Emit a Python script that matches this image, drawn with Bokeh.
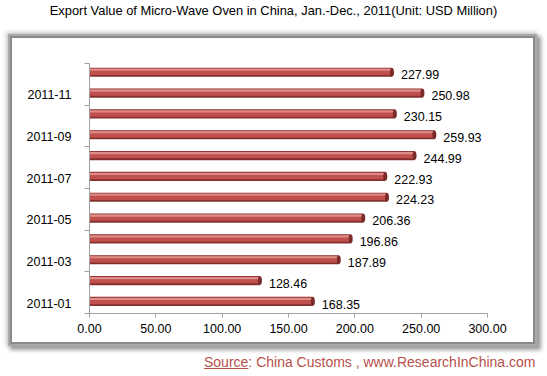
from bokeh.plotting import figure
from bokeh.layouts import column
from bokeh.models import (ColumnDataSource, FixedTicker, NumeralTickFormatter,
                          Range1d, Div)
from bokeh.transform import dodge
from bokeh.embed import file_html
from bokeh.resources import INLINE
from bokeh.core.properties import value

months = ["2011-01", "2011-02", "2011-03", "2011-04", "2011-05", "2011-06",
          "2011-07", "2011-08", "2011-09", "2011-10", "2011-11", "2011-12"]
export_value = [168.35, 128.46, 187.89, 196.86, 206.36, 224.23,
                222.93, 244.99, 259.93, 230.15, 250.98, 227.99]
x_ticks = [0, 50, 100, 150, 200, 250, 300]
title_text = "Export Value of Micro-Wave Oven in China, Jan.-Dec., 2011(Unit: USD Million)"
source_word = "Source"
source_rest = ": China Customs , www.ResearchInChina.com"

FONT = "Liberation Sans"
RED_TXT = "#b8504b"

# ---- title strip ----
top = Div(text=title_text, width=547, height=38,
          styles={"font-family": FONT, "font-size": "12.9px", "color": "#000000",
                  "text-align": "center", "line-height": "22px",
                  "white-space": "nowrap", "margin": "0", "padding": "0"})

# ---- main chart ----
pos = list(range(1, len(months) + 1))
src = ColumnDataSource(dict(
    y=pos,
    v=export_value,
    lbl=["{:.2f}".format(v) for v in export_value],
))

p = figure(width=521, height=304, output_backend="svg", toolbar_location=None,
           x_range=Range1d(0, 300), y_range=Range1d(0.5, 12.5),
           min_border_left=77, min_border_right=46,
           min_border_top=25, min_border_bottom=29)
p.background_fill_color = "white"
p.border_fill_color = "white"
p.outline_line_color = None
p.xgrid.visible = False
p.ygrid.visible = False
p.margin = (0, 0, 0, 12)
p.styles = {"box-shadow": "0 0 0 2px #8a8a8a, 0 0 0 4px #a9a9a9, "
                          "3px 3px 4px 5px #9c9c9c, -1px -1px 4px 5px #cfcfcf"}

# cylinder-like bars
p.hbar(y=dodge("y", 0.08, range=p.y_range), right="v", left=0, height=0.44, source=src,
       fill_color="#85302d", line_color=None)
p.hbar(y=dodge("y", 0.11, range=p.y_range), right="v", left=0, height=0.32, source=src,
       fill_color="#c0504d", line_color=None)
p.hbar(y=dodge("y", 0.2, range=p.y_range), right="v", left=0, height=0.1, source=src,
       fill_color="#de8d8a", line_color=None)
p.ellipse(x="v", y=dodge("y", 0.08, range=p.y_range), width=4, height=0.42,
          width_units="screen", source=src, fill_color="#7a2a28", line_color=None)

p.text(x="v", y="y", text="lbl", source=src, x_offset=9, y_offset=1,
       text_baseline="middle", text_align="left", text_font_size="12.5px",
       text_font=value(FONT), text_color="#000000")

# axes
p.xaxis.ticker = FixedTicker(ticks=x_ticks)
p.xaxis.formatter = NumeralTickFormatter(format="0.00")
p.xaxis.axis_line_color = "#a0a0a0"
p.xaxis.major_tick_line_color = "#a0a0a0"
p.xaxis.major_tick_out = 4
p.xaxis.major_tick_in = 0
p.xaxis.minor_tick_line_color = None
p.xaxis.major_label_text_font = FONT
p.xaxis.major_label_text_font_size = "12.5px"
p.xaxis.major_label_text_color = "#000000"
p.xaxis.major_label_standoff = 6

p.yaxis.ticker = FixedTicker(ticks=pos[0::2],
                             minor_ticks=[k + 0.5 for k in range(0, 13, 2)])
p.yaxis.major_label_overrides = {pv: m for pv, m in zip(pos, months)}
p.yaxis.axis_line_color = "#a0a0a0"
p.yaxis.major_tick_line_color = None
p.yaxis.minor_tick_line_color = "#a0a0a0"
p.yaxis.minor_tick_out = 5
p.yaxis.minor_tick_in = 0
p.yaxis.major_label_text_font = FONT
p.yaxis.major_label_text_font_size = "12.5px"
p.yaxis.major_label_text_color = "#000000"
p.yaxis.major_label_standoff = 12

# ---- source strip ----
bot = Div(text="<u>" + source_word + "</u>" + source_rest, width=547, height=34,
          styles={"font-family": FONT, "font-size": "14px", "color": RED_TXT,
                  "line-height": "20px", "padding-left": "204px", "padding-top": "10px",
                  "white-space": "nowrap", "margin": "0", "box-sizing": "border-box"})

layout = column(top, p, bot, spacing=0)
open("out.html", "w").write(file_html(layout, INLINE))
